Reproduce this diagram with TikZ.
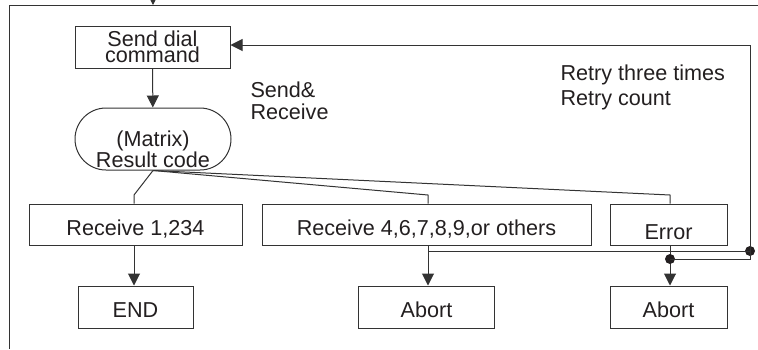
\documentclass[tikz,border=0pt]{standalone}
\usepackage{fontspec}
\setmainfont{Liberation Sans}
\usetikzlibrary{arrows.meta}
\definecolor{ink}{HTML}{231F20}
\definecolor{ln}{HTML}{333333}
\begin{document}
\begin{tikzpicture}[x=1pt,y=-1pt,
  every node/.style={text=ink,font=\fontsize{21.6}{22}\selectfont},
  frame/.style={draw=ln,line width=1pt,rectangle,inner sep=0pt},
  box/.style={frame,text height=21pt,text depth=0pt},
  conn/.style={draw=ln,line width=1pt},
  arr/.style={conn,-{Triangle[width=12pt,length=12pt]}},
  dotmark/.style={circle,fill=ink,inner sep=0pt,minimum size=10pt}]
\useasboundingbox (0,0) rectangle (758,349);
% outer partial frame
\coordinate (ftl) at (9,5);
\coordinate (ftr) at (758,5);
\coordinate (fbl) at (9,349);
\coordinate (ftop) at (153,5);
\coordinate (fin) at (153,-12);
\draw[conn] (ftr) -- (ftl) -- (fbl);
\draw[arr] (fin) -- (ftop);
% nodes
\node[frame,minimum width=155pt,minimum height=42pt,align=center,
  font=\fontsize{21.6}{16.5}\selectfont] (send) at (152.5,47) {Send dial\\command};
\node[frame,rounded corners=31pt,minimum width=156pt,minimum height=62pt,
  label={[name=rctext,align=center,font=\fontsize{21.6}{20.5}\selectfont,yshift=-10.5pt]center:(Matrix)\\Result code}] (rc) at (153,139) {};
\node[anchor=base west,align=left] (sr) at (247,119) {Send\&\\Receive};
\node[anchor=base west,align=left,font=\fontsize{21.6}{25}\selectfont] (retry) at (557,105) {Retry three times\\Retry count};
\node[box,minimum width=213pt,minimum height=41pt] (r1) at (135.5,224.5) {Receive 1,234};
\node[box,minimum width=329pt,minimum height=41pt] (r2) at (426.5,224.5) {Receive 4,6,7,8,9,or others};
\node[box,text height=29pt,minimum width=117pt,minimum height=41pt] (err) at (668.5,224.5) {Error};
\node[box,minimum width=115pt,minimum height=42pt] (end) at (135.5,307) {END};
\node[box,minimum width=136pt,minimum height=42pt] (ab1) at (426.5,307) {Abort};
\node[box,minimum width=117pt,minimum height=42pt] (ab2) at (668.5,307) {Abort};
% connectors
\draw[arr] (send) -- (rc);
\coordinate (k1) at (134,195);
\coordinate (k2) at (428,195);
\coordinate (k3) at (670,195);
\draw[conn] (rc.south) -- (k1) -- (k1 |- r1.north);
\draw[conn] (rc.south) -- (k2) -- (k2 |- r2.north);
\draw[conn] (rc.south) -- (k3) -- (k3 |- err.north);
\draw[arr] (k1 |- r1.south) -- (k1 |- end.north);
\draw[arr] (k2 |- r2.south) -- (k2 |- ab1.north);
\draw[arr] (k3 |- err.south) -- (k3 |- ab2.north);
\node[dotmark] (d1) at (750,251) {};
\node[dotmark] (d2) at (670,259) {};
\coordinate (b1) at (428,251);
\coordinate (lc) at (750,259);
\coordinate (lt) at (750,45);
\draw[conn] (b1) -- (d1.center);
\draw[conn] (d2.center) -- (lc) -- (lt);
\draw[arr] (lt) -- (lt -| send.east);
\end{tikzpicture}
\end{document}
